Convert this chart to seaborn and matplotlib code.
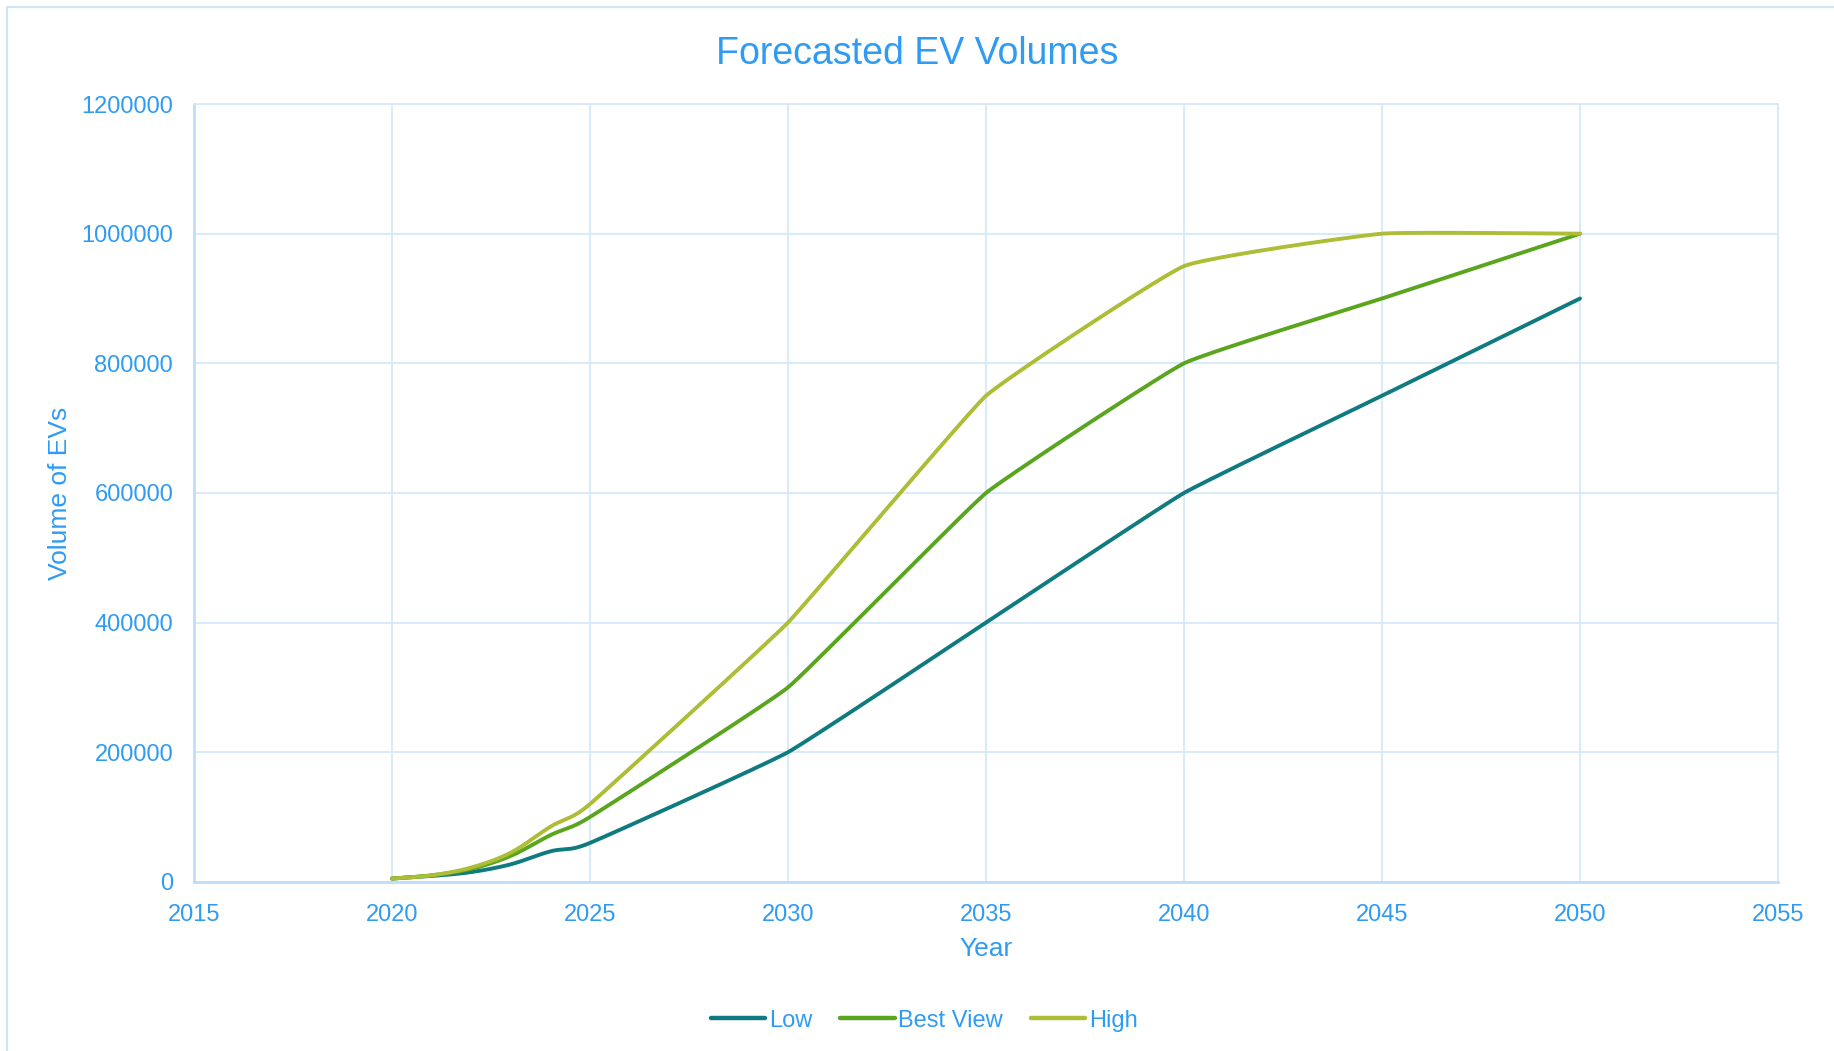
import numpy as np
import pandas as pd
import matplotlib
matplotlib.use("Agg")
import matplotlib.pyplot as plt
import seaborn as sns
from matplotlib.patches import Rectangle

years = [2020, 2021, 2022, 2023, 2024, 2025, 2030, 2035, 2040, 2045, 2050]
low = [5000, 9000, 15000, 27000, 47000, 60000, 200000, 400000, 600000, 750000, 900000]
best_view = [5000, 10000, 20000, 40000, 72000, 100000, 300000, 600000, 800000, 900000, 1000000]
high = [5000, 10000, 22000, 45000, 85000, 120000, 400000, 750000, 950000, 1000000, 1000000]
series_names = ["Low", "Best View", "High"]
x_ticks = [2015, 2020, 2025, 2030, 2035, 2040, 2045, 2050, 2055]
y_ticks = [0, 200000, 400000, 600000, 800000, 1000000, 1200000]

colors = {"Low": "#0F7B80", "Best View": "#5AA51E", "High": "#ADBE36"}
TEXT = "#2F9BF3"
GRID = "#D5E9FA"

# screen scale (pixels per data unit) used only for the smoothing geometry
SX = 39.6
SY = 650e-6
HANDLE_CAP = 24.0


def smooth(xs, ys, n=40):
    """Excel-like smoothed line: Bezier segments through the data points."""
    P = np.column_stack([np.asarray(xs, float) * SX, np.asarray(ys, float) * SY])
    m = len(P)
    tang = []
    for i in range(m):
        a = P[max(i - 1, 0)]
        b = P[min(i + 1, m - 1)]
        d = b - a
        L = np.hypot(*d)
        h = min(L / 6.0, HANDLE_CAP)
        tang.append(d / L * h if L > 0 else d)
    out = []
    for i in range(m - 1):
        p1, p2 = P[i], P[i + 1]
        c1 = p1 + tang[i]
        c2 = p2 - tang[i + 1]
        t = np.linspace(0, 1, n, endpoint=(i == m - 2))[:, None]
        bz = ((1 - t) ** 3) * p1 + 3 * ((1 - t) ** 2) * t * c1 + 3 * (1 - t) * t ** 2 * c2 + t ** 3 * p2
        out.append(bz)
    arr = np.vstack(out)
    return arr[:, 0] / SX, arr[:, 1] / SY


frames = []
for name, vals in zip(series_names, [low, best_view, high]):
    sx, sy = smooth(years, vals)
    frames.append(pd.DataFrame({"Year": sx, "Volume": sy, "Series": name}))
df = pd.concat(frames, ignore_index=True)

sns.set_theme(style="white")
plt.rcParams["font.family"] = ["Liberation Sans", "DejaVu Sans"]

fig = plt.figure(figsize=(18.34, 10.51), dpi=100)
ax = fig.add_axes([0.1058, 0.161, 0.8637, 0.740])

sns.lineplot(data=df, x="Year", y="Volume", hue="Series", hue_order=series_names,
             palette=colors, sort=False, estimator=None, units="Series",
             linewidth=2.8, ax=ax, legend=False)

ax.set_xlim(2015, 2055)
ax.set_ylim(0, 1200000)
ax.set_xticks(x_ticks)
ax.set_yticks(y_ticks)
ax.set_xticklabels([str(v) for v in x_ticks])
ax.set_yticklabels([str(v) for v in y_ticks])
ax.tick_params(axis="x", colors=TEXT, labelsize=17, length=0, pad=16)
ax.tick_params(axis="y", colors=TEXT, labelsize=17, length=0, pad=15)
ax.grid(True, color=GRID, linewidth=1.3)
ax.set_axisbelow(True)
for side, sp in ax.spines.items():
    sp.set_color(GRID if side in ("top", "right") else "#BFDDF7")
    sp.set_linewidth(1.3 if side in ("top", "right") else 2.0)

ax.set_xlabel("Year", color=TEXT, fontsize=19, labelpad=8)
ax.set_ylabel("Volume of EVs", color=TEXT, fontsize=19, labelpad=7)
fig.suptitle("Forecasted EV Volumes", color=TEXT, fontsize=27, x=0.5, y=0.949, va="center")

handles = [plt.Line2D([0], [0], color=colors[n], lw=3.2, solid_capstyle="round") for n in series_names]
fig.legend(handles, series_names, loc="center", bbox_to_anchor=(0.504, 0.029), ncol=3,
           frameon=False, fontsize=17, labelcolor=TEXT, handlelength=2.3,
           handletextpad=0.15, columnspacing=1.2)

fig.patches.append(Rectangle((7 / 1834, -0.01), 1.2, 1 - 7 / 1051 + 0.01, transform=fig.transFigure,
                             fill=False, edgecolor="#CFE5F8", linewidth=1.5))

fig.savefig("out.png", dpi=100, facecolor="white")
